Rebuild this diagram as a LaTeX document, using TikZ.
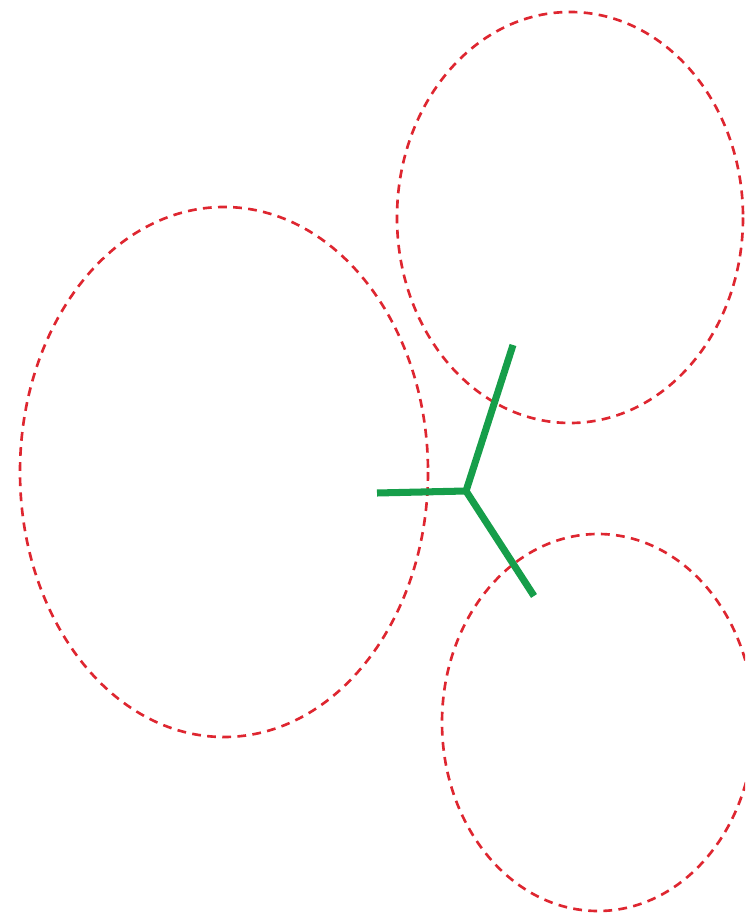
\documentclass[tikz,border=0pt]{standalone}
\definecolor{cellred}{RGB}{222,38,48}
\definecolor{wallgreen}{RGB}{22,158,74}
\begin{document}
\begin{tikzpicture}[x=0.01cm,y=-0.01cm,
  cell/.style={cellred,line width=0.75pt,dash pattern=on 2.5pt off 1.8pt},
  wall/.style={wallgreen,line width=2pt}]
\useasboundingbox (0,0) rectangle (745,919);
\clip (0,0) rectangle (745,919);
% dashed cells
\draw[cell] (224,472) ellipse [x radius=204,y radius=265];
\draw[cell] (570,217.5) ellipse [x radius=173,y radius=205.5];
\draw[cell] (598,722.5) ellipse [x radius=156,y radius=188.5];
% junction
\coordinate (hub) at (466,491);
\coordinate (armL) at (377,493);
\coordinate (armT) at (513,345);
\coordinate (armB) at (534,596);
\draw[wall] (armL) -- (hub) -- (armT);
\draw[wall] (hub) -- (armB);
\end{tikzpicture}
\end{document}
